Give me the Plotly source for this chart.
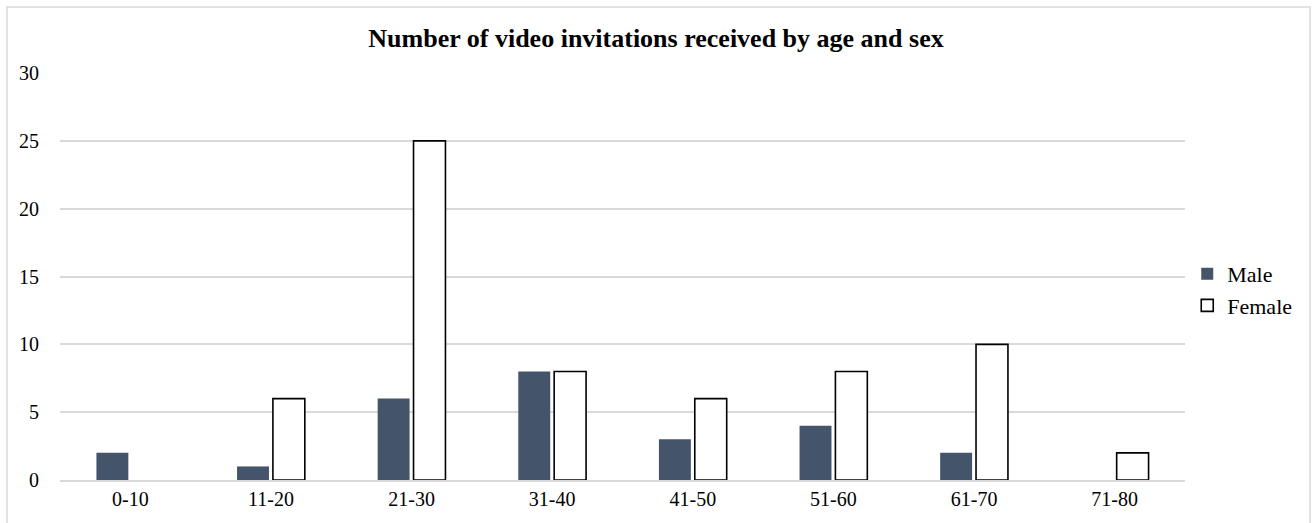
import plotly.graph_objects as go

age_groups = ["0-10", "11-20", "21-30", "31-40", "41-50", "51-60", "61-70", "71-80"]
male = [2, 1, 6, 8, 3, 4, 2, 0]
female = [0, 6, 25, 8, 6, 8, 10, 2]
y_ticks = [0, 5, 10, 15, 20, 25, 30]

FONT = "Liberation Serif, Times New Roman, serif"


def hide_zero(values):
    # empty categories are left blank instead of drawing a flat outline
    return [v if v != 0 else None for v in values]


fig = go.Figure()
fig.add_trace(go.Bar(
    name="Male", x=age_groups, y=hide_zero(male),
    marker=dict(color="#44546A", line=dict(width=0)),
))
fig.add_trace(go.Bar(
    name="Female", x=age_groups, y=hide_zero(female),
    marker=dict(color="#FFFFFF", line=dict(color="#000000", width=1.6)),
))

fig.update_layout(
    width=1312, height=523,
    margin=dict(l=60, r=127, t=73, b=43),
    paper_bgcolor="#FFFFFF", plot_bgcolor="#FFFFFF",
    barmode="group", bargap=0.49, bargroupgap=0.11,
    font=dict(family=FONT, size=20, color="#000000"),
    title=dict(
        text="<b>Number of video invitations received by age and sex</b>",
        x=0.5, xanchor="center", xref="container",
        y=1 - 38 / 523, yanchor="middle",
        font=dict(family=FONT, size=26, color="#000000"),
    ),
    legend=dict(
        x=1.002, xanchor="left", y=0.467, yanchor="middle",
        font=dict(family=FONT, size=22),
        itemwidth=30, tracegroupgap=11,
        bgcolor="rgba(0,0,0,0)",
    ),
    showlegend=True,
    shapes=[dict(
        type="rect", xref="paper", yref="paper",
        x0=-53 / 1125, x1=1250 / 1125, y0=-60 / 407, y1=(480 - 7) / 407,
        line=dict(color="#D9D9D9", width=1.5), fillcolor="rgba(0,0,0,0)",
        layer="below",
    )],
)

fig.update_xaxes(
    showgrid=False, showline=True, linecolor="#D9D9D9", linewidth=1.5,
    ticks="", tickfont=dict(family=FONT, size=20),
)
fig.update_yaxes(
    range=[0, 30], tickvals=y_ticks, showgrid=True, gridcolor="#D9D9D9",
    gridwidth=1.5, zeroline=False, showline=False, ticks="",
    tickfont=dict(family=FONT, size=20), ticklabelstandoff=20,
)

fig.write_html("out.html")
